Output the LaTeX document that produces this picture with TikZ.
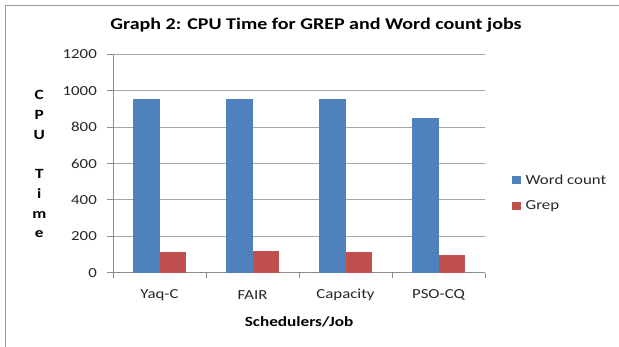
\documentclass[tikz,border=0pt]{standalone}
\usepackage{fontspec}
\setmainfont[FakeStretch=1.22]{Carlito}
\definecolor{wcblue}{HTML}{4F81BD}
\definecolor{grepred}{HTML}{C0504D}
\definecolor{gridgray}{HTML}{A6A6A6}
\definecolor{axisgray}{HTML}{8C8C8C}
\definecolor{framegray}{HTML}{9A9A9A}
\definecolor{labelgray}{HTML}{262626}
\tikzset{
  ticklabel/.style={font=\fontsize{13.8}{15}\selectfont, text=labelgray, inner sep=0pt},
  axistitle/.style={font=\bfseries\fontsize{14.1}{15}\selectfont, text=black, inner sep=0pt},
  gridline/.style={draw=gridgray, line width=0.9pt},
  axisline/.style={draw=axisgray, line width=1pt},
  wcbar/.style={fill=wcblue},
  grepbar/.style={fill=grepred},
}
\begin{document}
\begin{tikzpicture}[x=1pt,y=-1pt]
\useasboundingbox (0,0) rectangle (619,347);
% outer frame (top and left edges)
\draw[framegray, line width=1.6pt] (5.5,347) -- (5.5,5.5) -- (619,5.5);

% title
\node[font=\bfseries\fontsize{16.4}{18}\selectfont, inner sep=0pt] (title) at (316,25) {Graph 2: CPU Time for GREP and Word count jobs};

% value axis: 200 units = 36.4pt, zero at y = 272.7
\begin{scope}[shift={(0,272.7)}, y=0.182pt]
  \foreach \v in {200,400,...,1200}
    \draw[gridline] (107,\v) -- (485,\v);
  \foreach \v in {0,200,...,1200}
    \node[ticklabel, anchor=east] (ytick\v) at (97,\v) {\v};
  % axes
  \draw[axisline] (113,1200) -- (113,0);
  \draw[axisline] (107,0) -- (485,0);
  \foreach \v in {200,400,...,1200}
    \draw[axisline] (107,\v) -- (113,\v);
  \foreach \k in {0,...,4}
    \draw[axisline] ({113+93*\k},0) -- ({113+93*\k},-31);
  % bars: Word count, Grep
  \foreach \k/\w/\g in {0/955/112, 1/955/119, 2/955/116, 3/848/99} {
    \fill[wcbar]   ({133.3+93*\k},0) rectangle ({159.6+93*\k},\w);
    \fill[grepred] ({159.6+93*\k},0) rectangle ({186+93*\k},\g);
  }
\end{scope}

% category labels
\foreach \k/\t in {0/Yaq-C, 1/FAIR, 2/Capacity, 3/PSO-CQ}
  \node[ticklabel] (cat\k) at ({159.5+93*\k},295) {\t};

% axis titles
\node[axistitle] (xtitle) at (299,322) {Schedulers/Job};
\foreach \i/\c in {0/C, 1/P, 2/U, 4/T, 5/i, 6/m, 7/e}
  \node[axistitle, anchor=base] (yt\i) at (39.3,{100+19.7*\i}) {\c};

% legend
\fill[wcbar] (512.3,176.5) rectangle (520.7,184);
\node[ticklabel, anchor=west] (legwc) at (525.5,180) {Word count};
\fill[grepbar] (512.3,202.5) rectangle (520.7,210);
\node[ticklabel, anchor=west] (leggrep) at (525.5,206) {Grep};
\end{tikzpicture}
\end{document}
